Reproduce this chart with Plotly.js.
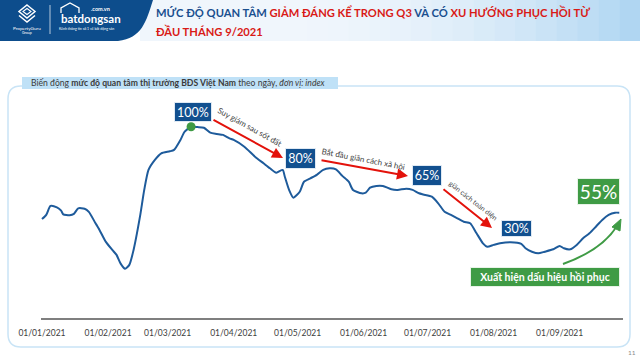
<!DOCTYPE html>
<html><head><meta charset="utf-8">
<script src="https://cdn.plot.ly/plotly-3.0.1.min.js"></script>
<style>html,body{margin:0;padding:0;background:#fff}#chart{width:640px;height:359px}</style>
</head><body><div id="chart"></div>
<script>
// ---- data (index, peak = 100) ----
const dates = ['2021-01-01','2021-01-03','2021-01-05','2021-01-08','2021-01-10','2021-01-11','2021-01-14','2021-01-16','2021-01-18','2021-01-21','2021-01-23','2021-01-26','2021-01-28','2021-01-31',
'2021-02-03','2021-02-05','2021-02-07','2021-02-09','2021-02-11','2021-02-13','2021-02-16','2021-02-18','2021-02-20','2021-02-23','2021-02-26',
'2021-03-02','2021-03-04','2021-03-07','2021-03-09','2021-03-12','2021-03-15','2021-03-18','2021-03-21','2021-03-24','2021-03-27','2021-03-30',
'2021-04-01','2021-04-06','2021-04-11','2021-04-15','2021-04-18','2021-04-21','2021-04-24','2021-04-25','2021-04-27','2021-04-29',
'2021-05-02','2021-05-04','2021-05-07','2021-05-10','2021-05-13','2021-05-16','2021-05-19','2021-05-22','2021-05-25','2021-05-27','2021-05-31',
'2021-06-02','2021-06-04','2021-06-07','2021-06-10','2021-06-14','2021-06-17','2021-06-21','2021-06-24','2021-06-27','2021-06-29',
'2021-07-03','2021-07-06','2021-07-09','2021-07-12','2021-07-15','2021-07-18','2021-07-21','2021-07-24','2021-07-27','2021-07-29',
'2021-08-01','2021-08-04','2021-08-09','2021-08-14','2021-08-16','2021-08-19','2021-08-22','2021-08-25','2021-08-29',
'2021-09-01','2021-09-03','2021-09-06','2021-09-09','2021-09-12','2021-09-15','2021-09-18','2021-09-21','2021-09-24','2021-09-27','2021-09-29'];
const interest = [53.8,55.9,60.4,59.7,58.0,56.2,55.7,56.4,59.2,59.0,57.4,52.0,48.4,42.4,
38.4,35.9,31.4,29.0,30.9,38.4,55.0,68.4,78.4,83.4,86.7,
87.7,88.4,93.4,97.5,100,99.8,99.5,97.0,96.4,95.9,94.2,
93.4,90.0,85.0,81.7,79.2,77.0,78.4,75.0,68.4,64.5,
67.5,72.5,74.2,75.9,78.4,79.2,78.7,75.4,72.5,68.4,66.7,
67.0,69.5,70.4,70.4,68.7,68.4,69.0,68.4,66.7,66.1,
65.0,61.7,57.5,55.9,54.2,52.5,51.7,46.7,41.7,40.0,
40.9,41.7,42.2,41.4,39.2,37.5,36.7,37.5,38.7,
40.4,39.2,38.7,40.9,44.2,46.7,50.0,53.4,55.9,57.0,57.0];
const tickDates = ['2021-01-01','2021-02-01','2021-03-01','2021-04-01','2021-05-01','2021-06-01','2021-07-01','2021-08-01','2021-09-01'];
const stageLabels = ['100%','80%','65%','30%'];
const recoveryLabel = '55%';
const phaseNotes = ['Suy giảm sau sốt đất','Bắt đầu giãn cách xã hội','giãn cách toàn diện'];
const recoveryNote = 'Xuất hiện dấu hiệu hồi phục';

// ---- geometry helpers (pixel -> paper) ----
const L=41, R=623, T=100, B=318;
const PX = x => (x-L)/(R-L);
const PY = y => (B-y)/(B-T);
const FONT = 'Lato, "Open Sans", sans-serif';
const NAVY = '#12508f', RED = '#e3120b', GREEN = '#3f9b45';

const peakIdx = interest.indexOf(Math.max(...interest));

const traces = [
  {x: dates, y: interest, type:'scatter', mode:'lines', line:{color:'#1e5b9b', width:2, shape:'spline', smoothing:0.6}, hoverinfo:'skip'},
  {x: [dates[peakIdx]], y: [interest[peakIdx]], type:'scatter', mode:'markers', marker:{color:'#3e9a44', size:9}, hoverinfo:'skip'}
];

const shapes = [];
const ann = [];
function rect(x0,y0,x1,y1,fill,layer){shapes.push({type:'rect',xref:'paper',yref:'paper',x0:PX(x0),x1:PX(x1),y0:PY(y1),y1:PY(y0),fillcolor:fill,line:{width:0},layer:layer||'below'});}
function pathPx(pts, opts){
  let d = pts.map(p => typeof p==='string'? p : (PX(p[0])+','+PY(p[1]))).join(' ');
  shapes.push(Object.assign({type:'path',xref:'paper',yref:'paper',path:d,layer:'below'},opts));
}
function txt(x,y,text,font,extra){
  ann.push(Object.assign({xref:'paper',yref:'paper',x:PX(x),y:PY(y),text:text,showarrow:false,font:font,xanchor:'center',yanchor:'middle'},extra||{}));
}

// header gradient (light area)
const bands = 24;
for(let i=0;i<bands;i++){
  const x0 = 140 + i*(500/bands), x1 = x0 + 500/bands + 0.5;
  const t = i/(bands-1);
  const c0=[240,246,252], c1=[176,214,242];
  const tt = Math.max(0,(t-0.25)/0.75);
  const c = c0.map((v,k)=>Math.round(v+(c1[k]-v)*tt*tt));
  rect(x0,0,x1,41,'rgb('+c.join(',')+')');
}
// dark blue logo block
pathPx(['M',[0,0],'L',[153,0],'C',[146,22],[142,38],[118,41],'L',[0,41],'Z'],{fillcolor:'#0d4d8c',line:{width:0}});
// PropertyGuru icon (simplified)
pathPx(['M',[27,5],'L',[35,11.5],'L',[27,18],'L',[19,11.5],'Z'],{line:{color:'#fff',width:1.5},fillcolor:'rgba(0,0,0,0)',layer:'above'});
pathPx(['M',[19,15.5],'L',[27,22],'L',[35,15.5]],{line:{color:'#fff',width:1.5},layer:'above'});
pathPx(['M',[27,8.5],'L',[31,11.5],'L',[27,14.5],'L',[23,11.5],'Z'],{line:{color:'#fff',width:1.1},fillcolor:'rgba(0,0,0,0)',layer:'above'});
// divider
pathPx(['M',[50,5],'L',[50,34]],{line:{color:'rgba(255,255,255,0.7)',width:1},layer:'above'});
// house icon
pathPx(['M',[61,13],'L',[61,8],'L',[70,3],'L',[79,8],'L',[79,13]],{line:{color:'#fff',width:1.3},layer:'above'});

txt(27,27.5,'PropertyGuru',{family:FONT,size:4.6,color:'#fff'});
txt(27,32.5,'Group',{family:FONT,size:3.6,color:'#fff'});
txt(59,19,'<b>batdongsan</b>',{family:FONT,size:11.5,color:'#fff'},{xanchor:'left'});
txt(112,9,'<b>.com.vn</b>',{family:FONT,size:5.5,color:'#fff'},{xanchor:'right'});
txt(86,29,'Kênh thông tin số 1 về bất động sản',{family:FONT,size:3.5,color:'#fff'});

// title
const B1='<span style="color:#1a4f8f">', R1='<span style="color:#d91a16">', E='</span>';
txt(154,12,'<b>'+B1+'MỨC ĐỘ QUAN TÂM '+E+R1+'GIẢM ĐÁNG KỂ TRONG Q3'+E+B1+' VÀ CÓ '+E+R1+'XU HƯỚNG PHỤC HỒI TỪ'+E+'</b>',
  {family:FONT,size:11.2},{xanchor:'left'});
txt(154,31,'<b>'+R1+'ĐẦU THÁNG 9/2021'+E+'</b>',{family:FONT,size:11.2},{xanchor:'left'});

// panel rounded border
const px0=8, px1=630, py0=86, py1=347, r=13;
pathPx(['M',[px0+r,py0],'L',[px1-r,py0],'Q',[px1,py0],[px1,py0+r],'L',[px1,py1-r],'Q',[px1,py1],[px1-r,py1],'L',[px0+r,py1],'Q',[px0,py1],[px0,py1-r],'L',[px0,py0+r],'Q',[px0,py0],[px0+r,py0],'Z'],
  {line:{color:'#c9e4f6',width:1.5},fillcolor:'rgba(0,0,0,0)'});
// panel label
rect(22,77,338,89,'#bfe1f7','above');
txt(29,83,'Biến động <b>mức độ quan tâm thị trường BĐS Việt Nam</b> theo ngày, <i>đơn vị: index</i>',
  {family:FONT,size:8.6,color:'#3a3a3a'},{xanchor:'left'});

// stage boxes
const boxes = [
  {t:stageLabels[0], x0:174,x1:212,y0:102,y1:122},
  {t:stageLabels[1], x0:285,x1:316,y0:148,y1:169},
  {t:stageLabels[2], x0:412,x1:442,y0:165,y1:186},
  {t:stageLabels[3], x0:501,x1:532,y0:220,y1:237}
];
boxes.forEach(b=>{
  txt((b.x0+b.x1)/2,(b.y0+b.y1)/2,b.t,{family:FONT,size:12.5,color:'#fff'},
    {width:b.x1-b.x0-2,height:b.y1-b.y0-2,borderpad:0,borderwidth:1,bordercolor:'#dfe9f3',bgcolor:NAVY});
});
txt(598.5,191.5,recoveryLabel,{family:FONT,size:19,color:'#fff'},{width:41,height:25,borderpad:0,borderwidth:1,bordercolor:'#e8f3e8',bgcolor:GREEN});
txt(545,277,'<b>'+recoveryNote+'</b>',{family:FONT,size:10.5,color:'#fff'},{width:148,height:18,borderpad:0,borderwidth:1,bordercolor:'#e8f3e8',bgcolor:GREEN});

// red arrows
function arrow(x0,y0,x1,y1,color){
  ann.push({xref:'paper',yref:'paper',x:PX(x1),y:PY(y1),ax:x0-x1,ay:y0-y1,axref:'pixel',ayref:'pixel',showarrow:true,
    arrowhead:2,arrowsize:1.1,arrowwidth:2,arrowcolor:color,text:''});
}
arrow(212,119,283,158,RED);
arrow(320,160,408,176,RED);
arrow(442,188,492,228,RED);
// rotated notes
txt(250,127,phaseNotes[0],{family:FONT,size:8,color:'#444'},{textangle:29});
txt(363,159,phaseNotes[1],{family:FONT,size:8,color:'#444'},{textangle:11});
txt(473,200,phaseNotes[2],{family:FONT,size:7,color:'#444'},{textangle:38});

// green curved arrow
pathPx(['M',[563,264],'Q',[602,250],[617,226]],{line:{color:GREEN,width:2},fillcolor:'rgba(0,0,0,0)',layer:'above'});
pathPx(['M',[621,219],'L',[612,227],'L',[620,231],'Z'],{line:{color:GREEN,width:1},fillcolor:GREEN,layer:'above'});

// page number
txt(632,352,'11',{family:FONT,size:6.5,color:'#8a8a8a'});

const layout = {
  width:640,height:359,
  margin:{l:L,r:640-R,t:T,b:359-B,pad:0},
  paper_bgcolor:'#fff',plot_bgcolor:'rgba(0,0,0,0)',
  showlegend:false,
  xaxis:{type:'date',range:['2020-12-31 13:00','2021-09-30 18:00'],showgrid:false,zeroline:false,
    showline:true,linecolor:'#7f7f7f',linewidth:1.5,ticks:'',tickvals:tickDates,tickformat:'%d/%m/%Y',
    tickfont:{family:FONT,size:8.5,color:'#404040'},ticklabelstandoff:6,fixedrange:true},
  yaxis:{range:[4.35,113.35],visible:false,fixedrange:true},
  shapes:shapes,annotations:ann
};
Plotly.newPlot('chart',traces,layout,{displayModeBar:false,staticPlot:true});
</script></body></html>
